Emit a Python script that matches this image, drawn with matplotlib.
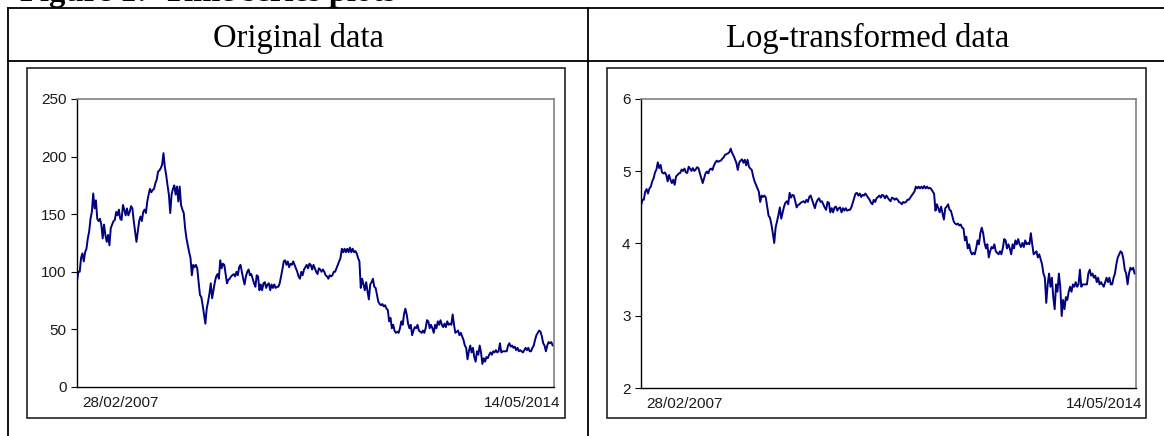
import matplotlib
matplotlib.use('Agg')
import matplotlib.pyplot as plt
import matplotlib.transforms as mtransforms
from matplotlib.patches import Rectangle
from matplotlib.lines import Line2D
import numpy as np
import pandas as pd

# values, left to right
price = [92, 100, 100, 112, 116, 109, 117, 120, 129, 135, 146, 152, 168, 155, 162, 146,
         144, 146, 141, 129, 141, 132, 126, 132, 123, 138, 141, 144, 145, 152, 149, 154,
         146, 145, 158, 154, 149, 155, 149, 152, 157, 155, 144, 135, 126, 135, 144, 148,
         144, 152, 154, 151, 161, 167, 172, 169, 171, 172, 177, 180, 187, 188, 190, 193,
         203, 191, 184, 175, 167, 151, 167, 172, 175, 167, 174, 161, 174, 158, 154, 151,
         138, 129, 123, 117, 112, 97, 106, 104, 106, 103, 91, 80, 78, 71, 63, 55,
         68, 74, 81, 90, 77, 84, 91, 96, 98, 94, 110, 103, 107, 106, 98, 90,
         93, 94, 96, 97, 98, 96, 100, 97,
         104, 106, 100, 94, 89, 96, 100, 102, 97, 98, 94, 90, 87, 97, 96, 84,
         89, 84, 90, 91, 86, 89, 90, 84, 89, 86, 89, 86, 87, 87, 90, 96,
         102, 109, 110, 106, 109, 104, 107, 106, 109, 106, 103, 100, 96, 94, 100, 97,
         102, 104, 106, 103, 107, 106, 102, 106, 103, 100, 98, 103, 102, 100, 102, 100,
         97, 96, 94, 97, 96, 97, 100, 100, 103, 106, 109, 112, 120, 117, 120, 117,
         120, 117, 121, 117, 120, 117, 118, 116, 112, 109, 86, 94, 89, 84, 91, 83,
         76, 89, 91, 94, 87, 86, 80, 74, 72, 71, 72, 70, 71, 68, 67, 57,
         60, 51, 54, 49, 47, 48,
         47, 51, 57, 54, 63, 68, 63, 55, 51, 54, 45, 49, 52, 51, 54, 49,
         48, 47, 49, 47, 51, 58, 57, 51, 54, 51, 47, 54, 51, 57, 54, 58,
         54, 52, 55, 52, 57, 54, 55, 54, 63, 54, 47, 48, 49, 45, 47, 44,
         41, 36, 34, 24, 31, 36, 30, 34, 26, 22, 31, 28, 36, 30, 20, 25,
         22, 26, 25, 28, 30, 28, 31, 30, 32, 30, 31, 38, 30, 31, 31, 31,
         31, 36, 38, 35, 36, 34, 35, 32, 34, 31, 32, 31, 30, 32, 34, 32,
         34, 31, 31, 34, 36, 41, 45, 47, 49, 48, 44, 38, 36, 31, 36, 39,
         38, 39, 36, 36]
log_price = np.log(price)

start_label = '28/02/2007'
end_label = '14/05/2014'
dates = pd.date_range('2007-02-28', '2014-05-14', periods=len(price))

headers = ['Original data', 'Log-transformed data']
title = 'Figure 1:  Time series plots'

W, H = 1164, 436


def fx(x):
    return x / W


def fy(y):
    return 1 - y / H


def rect(x0, y0, x1, y1):
    return [fx(x0), fy(y1), fx(x1) - fx(x0), fy(y0) - fy(y1)]


fig = plt.figure(figsize=(W / 100, H / 100), dpi=100)

# table around the two charts
tbl = dict(color='black', lw=1.3, transform=fig.transFigure)
fig.add_artist(Line2D([fx(8), fx(1164)], [fy(8.5), fy(8.5)], **tbl))
fig.add_artist(Line2D([fx(8), fx(1164)], [fy(61), fy(61)], **tbl))
fig.add_artist(Line2D([fx(8), fx(8)], [fy(8.5), fy(436)], **tbl))
fig.add_artist(Line2D([fx(588), fx(588)], [fy(8.5), fy(436)], **tbl))

fig.text(fx(20), fy(1.5), title, fontsize=23.5, fontweight='bold',
         family='Liberation Serif', va='baseline', ha='left')
fig.text(fx(298), fy(47), headers[0], fontsize=23.5, family='Liberation Serif',
         va='baseline', ha='center')
fig.text(fx(868), fy(47), headers[1], fontsize=23.5, family='Liberation Serif',
         va='baseline', ha='center')


def panel(frame, area, values, ylim, yticks):
    fig.add_artist(Rectangle((fx(frame[0]), fy(frame[3])),
                             fx(frame[2]) - fx(frame[0]), fy(frame[1]) - fy(frame[3]),
                             transform=fig.transFigure, fill=False,
                             edgecolor='#222222', lw=1.2))
    ax = fig.add_axes(rect(*area))
    ax.plot(dates, values, color='#000080', lw=1.4)
    ax.set_xlim(dates[0], dates[-1])
    ax.set_ylim(ylim)
    ax.set_yticks(yticks)
    for s in ['top', 'right']:
        ax.spines[s].set_color('#808080')
        ax.spines[s].set_linewidth(1.2)
    for s in ['left', 'bottom']:
        ax.spines[s].set_color('black')
        ax.spines[s].set_linewidth(1.0)
    ax.set_xticks([dates[0], dates[-1]])
    ax.set_xticklabels([start_label, end_label])
    ax.tick_params(axis='x', length=0, pad=6.5, labelsize=11, labelcolor='#1a1a1a')
    ax.tick_params(axis='y', length=4, width=0.8, pad=3.5, direction='out',
                   labelsize=11, labelcolor='#1a1a1a')
    for lab in ax.get_xticklabels() + ax.get_yticklabels():
        lab.set_family('Liberation Sans')
    labs = ax.get_xticklabels()
    labs[0].set_ha('left')
    labs[0].set_transform(labs[0].get_transform() +
                          mtransforms.ScaledTranslation(5 / 100, 0, fig.dpi_scale_trans))
    labs[1].set_ha('right')
    labs[1].set_transform(labs[1].get_transform() +
                          mtransforms.ScaledTranslation(6 / 100, 0, fig.dpi_scale_trans))
    return ax


panel((27, 68, 565, 418), (77, 99, 554, 387), price, (0, 250), [0, 50, 100, 150, 200, 250])
panel((607, 68, 1146, 418), (641, 99, 1136, 388), log_price, (2, 6), [2, 3, 4, 5, 6])

fig.savefig('out.png', dpi=100)
